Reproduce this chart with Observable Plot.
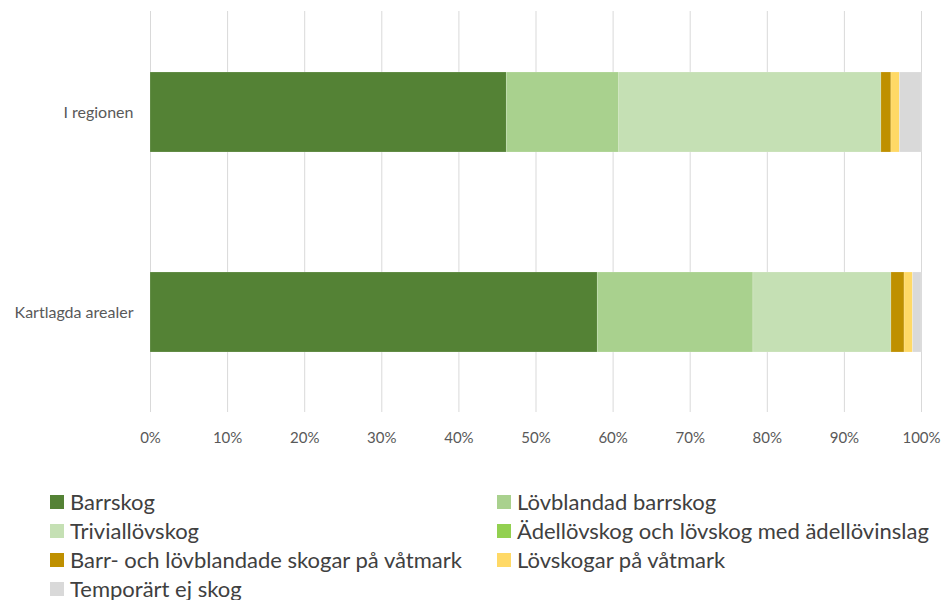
<!DOCTYPE html>
<html>
<head>
<meta charset="utf-8">
<script src="https://cdn.jsdelivr.net/npm/d3@7"></script>
<script src="https://cdn.jsdelivr.net/npm/@observablehq/plot@0.6"></script>
<style>
  body { margin: 0; background: #fff; font-family: Lato, "Open Sans", sans-serif; }
  #chart { width: 941px; }
  .legend { display: grid; grid-template-columns: 447px 440px; margin-left: 50px; margin-top: 35px; row-gap: 6px; }
  .item { display: flex; align-items: center; font-size: 22px; color: #404040; height: 23px; white-space: nowrap; }
  .sw { width: 14px; height: 14px; margin-right: 6px; flex: none; }
</style>
</head>
<body>
<div id="chart"></div>
<script>
const categories = ["I regionen", "Kartlagda arealer"];
const seriesNames = [
  "Barrskog",
  "Lövblandad barrskog",
  "Triviallövskog",
  "Ädellövskog och lövskog med ädellövinslag",
  "Barr- och lövblandade skogar på våtmark",
  "Lövskogar på våtmark",
  "Temporärt ej skog"
];
const seriesColors = ["#548235", "#A9D18E", "#C5E0B4", "#92D050", "#BF9000", "#FFD966", "#D9D9D9"];
// percent values per series: [I regionen, Kartlagda arealer]
const barrskog = [46.2, 58.0];
const lovblandadBarrskog = [14.6, 20.2];
const triviallovskog = [34.0, 17.9];
const adellovskog = [0, 0];
const barrLovVatmark = [1.3, 1.7];
const lovskogarVatmark = [1.1, 1.1];
const temporartEjSkog = [2.8, 1.1];
const xTicks = [0, 10, 20, 30, 40, 50, 60, 70, 80, 90, 100];

const seriesValues = [barrskog, lovblandadBarrskog, triviallovskog, adellovskog, barrLovVatmark, lovskogarVatmark, temporartEjSkog];
const data = [];
seriesNames.forEach((s, si) => {
  categories.forEach((c, ci) => data.push({category: c, series: s, value: seriesValues[si][ci]}));
});

const chart = Plot.plot({
  width: 941,
  height: 455,
  marginLeft: 150,
  marginRight: 20,
  marginTop: 11,
  marginBottom: 43,
  style: {fontFamily: "Lato, 'Open Sans', sans-serif", fontSize: "14px", color: "#595959", background: "#fff"},
  x: {domain: [0, 100], label: null},
  y: {domain: categories, paddingInner: 0.6, paddingOuter: 0.3, label: null},
  color: {domain: seriesNames, range: seriesColors},
  marks: [
    Plot.ruleX(xTicks, {stroke: "#D9D9D9", strokeWidth: 1}),
    Plot.barX(data, {y: "category", x: "value", fill: "series", order: seriesNames, stroke: "#ffffff", strokeOpacity: 0.35, strokeWidth: 0.5}),
    Plot.axisX({ticks: xTicks, tickFormat: d => d + "%", tickSize: 0, tickPadding: 20, fontSize: 15, fill: "#595959", label: null}),
    Plot.axisY({tickSize: 0, tickPadding: 17, fontSize: 16, fill: "#595959", label: null})
  ]
});
document.getElementById("chart").appendChild(chart);

const legend = document.createElement("div");
legend.className = "legend";
seriesNames.forEach((s, i) => {
  const it = document.createElement("div");
  it.className = "item";
  const sw = document.createElement("span");
  sw.className = "sw";
  sw.style.background = seriesColors[i];
  it.appendChild(sw);
  it.appendChild(document.createTextNode(s));
  legend.appendChild(it);
});
document.getElementById("chart").appendChild(legend);
</script>
</body>
</html>
